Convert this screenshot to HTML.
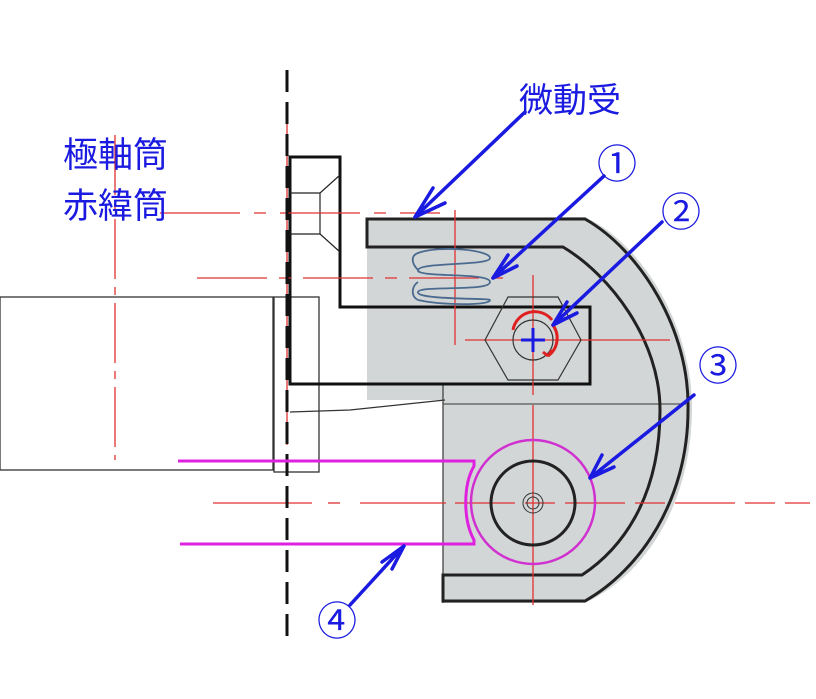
<!DOCTYPE html>
<html><head><meta charset="utf-8"><style>
html,body{margin:0;padding:0;background:#fff;width:816px;height:699px;overflow:hidden}
svg{display:block}
text{font-family:"Liberation Sans","Noto Sans CJK JP",sans-serif;fill:#1a1ae0}
</style></head><body>
<svg width="816" height="699" viewBox="0 0 816 699" xmlns="http://www.w3.org/2000/svg">
<path d="M367,219 L585,217 C645,245 693,330 692,410 C691,505 645,575 585,603 L443,603 L443,400 L367,400 Z" fill="#d3d6d6"/>
<rect x="0" y="297" width="273" height="173" fill="none" stroke="#333" stroke-width="1.3"/>
<rect x="274" y="297" width="45" height="175" fill="none" stroke="#333" stroke-width="1.3"/>
<path d="M290,412 L350,410 L445,400" fill="none" stroke="#333" stroke-width="1.3"/>
<line x1="443" y1="384" x2="443" y2="603" stroke="#444" stroke-width="1.3"/>
<line x1="443" y1="404" x2="686" y2="404" stroke="#555" stroke-width="1.2"/>
<path d="M290,384 L290,157 L340,157 L340,307 L590,307 L590,384 Z" fill="none" stroke="#111" stroke-width="3"/>
<path d="M340,175 L320,193 L320,234 L340,252 M290,193 L320,193 M290,234 L320,234" fill="none" stroke="#222" stroke-width="1.2"/>
<path d="M367,219 L367,247 L563,247 C610,275 660,340 660,410 C660,500 620,550 582,575 L443,575 L443,601 L585,601 C640,570 688,500 688,410 C690,330 640,250 585,219 Z" fill="none" stroke="#222" stroke-width="3"/>
<g stroke="#e03030" stroke-width="1.3" fill="none">
<line x1="115" y1="135" x2="115" y2="460" stroke-dasharray="60,8,8,8"/>
<line x1="160" y1="213" x2="440" y2="213" stroke-dasharray="80,14,12,14"/>
<line x1="197" y1="278" x2="515" y2="278" stroke-dasharray="70,12,12,12"/>
<line x1="455" y1="210" x2="455" y2="345"/>
<line x1="465" y1="340" x2="670" y2="340"/>
<line x1="533" y1="275" x2="533" y2="395"/>
<line x1="533" y1="405" x2="533" y2="605"/>
<line x1="213" y1="503" x2="312" y2="503"/>
<line x1="328" y1="503" x2="340" y2="503"/>
<line x1="360" y1="503" x2="446" y2="503"/>
<line x1="455" y1="503" x2="810" y2="503" stroke-dasharray="60,10,30,10"/>
<line x1="287" y1="110" x2="287" y2="445"/>
</g>
<line x1="287" y1="70" x2="287" y2="645" stroke="#111" stroke-width="3" stroke-dasharray="22,10"/>
<path d="M418,253 C440,245 490,250 490,258 C490,266 420,262 418,270 C416,278 490,272 490,282 C490,292 420,285 418,292 C416,300 490,298 490,300 C490,306 440,305 418,300 M418,253 C410,256 412,264 418,270 M418,300 C410,296 412,286 418,282" fill="none" stroke="#4a6a90" stroke-width="1.8"/>
<polygon points="485,340 508,297 558,297 581,340 558,380 508,380" fill="none" stroke="#333" stroke-width="1.2"/>
<circle cx="533" cy="340" r="20" fill="none" stroke="#333" stroke-width="1.2"/>
<path d="M513,330 A22,22 0 0 1 552,320" fill="none" stroke="#e02020" stroke-width="3"/>
<path d="M552,324 A22,22 0 0 1 548,356 L552,350 M548,356 L543,352" fill="none" stroke="#e02020" stroke-width="3"/>
<path d="M521,340 L545,340 M533,328 L533,352" stroke="#1a1ae0" stroke-width="3"/>
<circle cx="533" cy="502" r="62" fill="none" stroke="#d030d0" stroke-width="2.5"/>
<circle cx="533" cy="503" r="42" fill="none" stroke="#222" stroke-width="3"/>
<circle cx="533" cy="503" r="10" fill="none" stroke="#333" stroke-width="1"/>
<circle cx="533" cy="503" r="6" fill="none" stroke="#333" stroke-width="1"/>
<path d="M178,461 L474,461 L474,466 C463,485 463,520 474,540 L474,544 L180,544" fill="none" stroke="#e020e0" stroke-width="3"/>
<g stroke="#1a1ae0" stroke-width="3.5" fill="none" stroke-linecap="round">
<path d="M525,112 L415,217 M415,217 L433,188 M415,217 L445,203"/>
<path d="M604,176 L493,278 M493,278 L508,255 M493,278 L517,266"/>
<path d="M662,222 L553,325 M553,325 L567,302 M553,325 L577,313"/>
<path d="M694,395 L590,478 M590,478 L602,455 M590,478 L614,467"/>
<path d="M350,605 L404,546 M404,546 L392,569 M404,546 L382,562"/>
</g>
<text x="519" y="112" font-size="34">微動受</text>
<text x="63" y="167" font-size="35">極軸筒</text>
<text x="63" y="218" font-size="35">赤緯筒</text>
<text x="597" y="178" font-size="40">①</text>
<text x="661" y="226" font-size="40">②</text>
<text x="698" y="380" font-size="40">③</text>
<text x="317" y="635" font-size="40">④</text>
</svg>
</body></html>
